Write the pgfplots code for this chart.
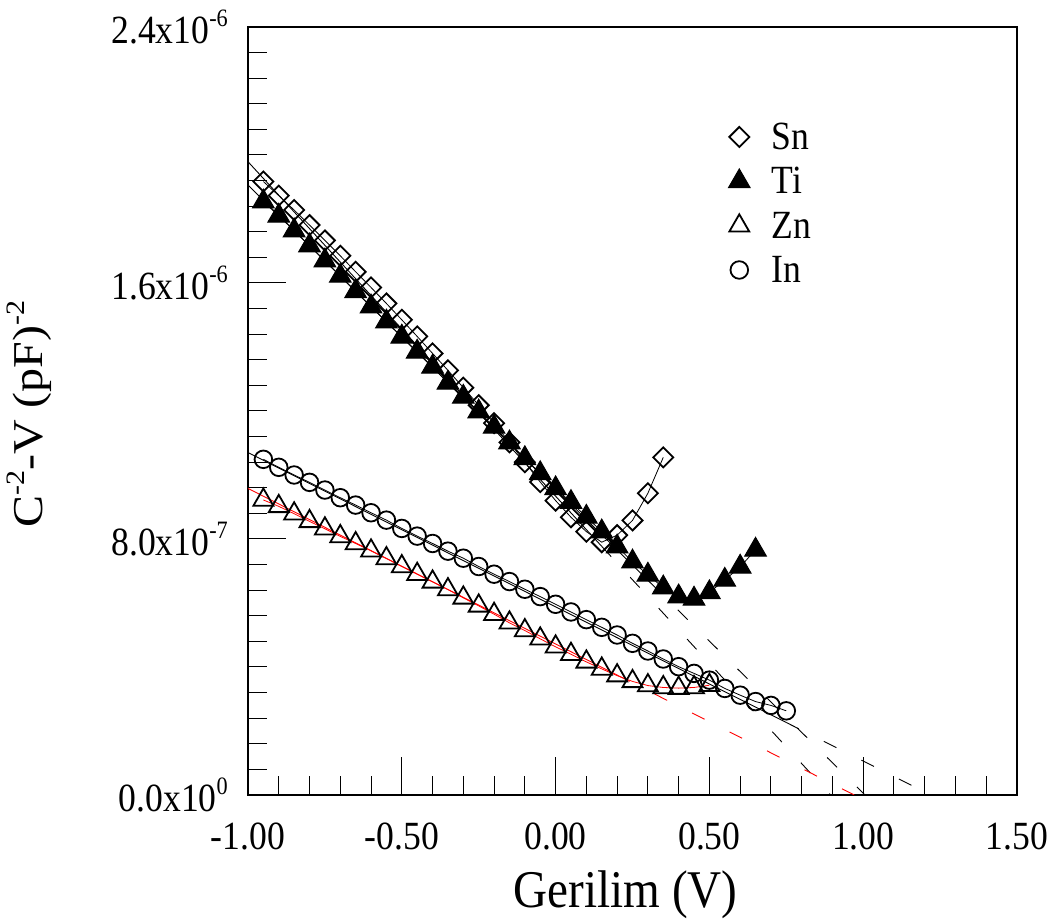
\documentclass[border=0pt]{standalone}
\usepackage{fontspec}
\setmainfont{Liberation Serif}
\newfontfamily\tnr{Liberation Serif}
\usepackage{graphicx}
\usepackage{pgfplots}
\pgfplotsset{compat=1.18}
\newcommand{\sx}[1]{\scalebox{0.89}[1]{#1}}
\newcommand{\sy}[1]{\scalebox{1}[0.886]{#1}}
\newcommand{\tsup}[1]{\raisebox{17bp}{\fontsize{25bp}{25bp}\selectfont #1}}
\newcommand{\lsup}[1]{\raisebox{21bp}{\fontsize{30bp}{30bp}\selectfont #1}}
\begin{document}
\tnr
\begin{tikzpicture}
\path[use as bounding box] (0,0) rectangle (1056bp,924bp);
\begin{axis}[
  at={(248bp,129bp)}, anchor=south west,
  scale only axis, width=769bp, height=768bp,
  xmin=-1, xmax=1.5, ymin=0, ymax=2.4e-6,
  scaled y ticks=false, scaled x ticks=false,
  xtick={-1,-0.5,0,0.5,1,1.5},
  xticklabels={\sx{-1.00},\sx{-0.50},\sx{0.00},\sx{0.50},\sx{1.00},\sx{1.50}},
  ytick={0,0.8e-6,1.6e-6,2.4e-6},
  yticklabels={\sx{0.0x10\tsup{0}},\sx{8.0x10\tsup{-7}},\sx{1.6x10\tsup{-6}},\sx{2.4x10\tsup{-6}}},
  minor x tick num=4, minor y tick num=9,
  tick pos=left, tick align=inside,
  major tick length=38bp, minor tick length=19bp,
  every tick/.style={black, line width=1bp},
  axis line style={line width=1.2bp},
  ticklabel style={font=\tnr\fontsize{40bp}{40bp}\selectfont, inner sep=0pt},
  xticklabel style={yshift=-28bp},
  yticklabel style={xshift=-20bp},
  xlabel={\sx{Gerilim (V)}}, ylabel={\sy{C\lsup{-2}-V (pF)\lsup{-2}}},
  xlabel style={font=\tnr\fontsize{53bp}{53bp}\selectfont, inner sep=0pt,
    at={(axis description cs:0.491,-0.147)}, anchor=base},
  ylabel style={font=\tnr\fontsize{48bp}{48bp}\selectfont, inner sep=0pt,
    at={(axis description cs:-0.2666,0.496)}, anchor=base},
  legend style={draw=none, fill=none, at={(axis cs:0.562,2.10e-6)}, anchor=north west,
    inner sep=0pt, outer sep=0pt, row sep=16.5bp, column sep=21.5bp,
    font=\tnr\fontsize{40bp}{40bp}\selectfont, nodes={inner sep=0pt}},
  legend cell align=left,
  legend image code/.code={\draw[#1] plot coordinates {(0bp,0bp)};},
]
% fit lines
\addplot[black, line width=0.9bp, forget plot] coordinates {(-1,1.979e-6) (0.15,0.777e-6)};
\addplot[black, line width=0.9bp, dash pattern=on 14bp off 28bp, forget plot] coordinates {(0.15,0.777e-6) (0.894,0)};
\addplot[black, line width=0.9bp, forget plot] coordinates {(-1,1.906e-6) (0.3,0.671e-6)};
\addplot[black, line width=0.9bp, dash pattern=on 14bp off 28bp, forget plot] coordinates {(0.3,0.671e-6) (1.006,0)};
\addplot[black, line width=0.9bp, forget plot] coordinates {(-1,1.070e-6) (0.75,0.2265e-6)};
\addplot[black, line width=0.9bp, dash pattern=on 14bp off 28bp, forget plot] coordinates {(0.75,0.2265e-6) (1.22,0)};
\addplot[red, line width=0.9bp, forget plot] coordinates {(-1,0.958e-6) (0.2,0.3748e-6)};
\addplot[red, line width=0.9bp, dash pattern=on 14bp off 28bp, forget plot] coordinates {(0.2,0.3748e-6) (0.971,0)};
% Sn
\addplot[black, line width=0.8bp, mark=square, mark size=7.1bp,
  mark options={rotate=45, solid, black, fill=none, line width=1.8bp}] coordinates {
(-0.95,1.917e-6) (-0.90,1.873e-6) (-0.85,1.828e-6) (-0.80,1.781e-6) (-0.75,1.733e-6)
(-0.70,1.685e-6) (-0.65,1.635e-6) (-0.60,1.586e-6) (-0.55,1.536e-6) (-0.50,1.485e-6)
(-0.45,1.433e-6) (-0.40,1.380e-6) (-0.35,1.327e-6) (-0.30,1.273e-6) (-0.25,1.218e-6)
(-0.20,1.162e-6) (-0.15,1.102e-6) (-0.10,1.040e-6) (-0.05,0.978e-6) (0.00,0.920e-6)
(0.05,0.868e-6) (0.10,0.823e-6) (0.15,0.790e-6) (0.20,0.812e-6) (0.25,0.858e-6)
(0.30,0.943e-6) (0.35,1.055e-6)};
\addlegendentry{\sx{Sn}}
% Ti
\addplot[black, line width=0.8bp, mark=triangle*, mark size=12.5bp,
  mark options={solid, black, fill=black, line width=1bp}] coordinates {
(-0.95,1.854e-6) (-0.90,1.810e-6) (-0.85,1.764e-6) (-0.80,1.717e-6) (-0.75,1.670e-6)
(-0.70,1.622e-6) (-0.65,1.574e-6) (-0.60,1.526e-6) (-0.55,1.479e-6) (-0.50,1.432e-6)
(-0.45,1.385e-6) (-0.40,1.338e-6) (-0.35,1.288e-6) (-0.30,1.244e-6) (-0.25,1.198e-6)
(-0.20,1.150e-6) (-0.15,1.101e-6) (-0.10,1.052e-6) (-0.05,1.005e-6) (0.00,0.958e-6)
(0.05,0.915e-6) (0.10,0.869e-6) (0.15,0.823e-6) (0.20,0.776e-6) (0.25,0.729e-6)
(0.30,0.688e-6) (0.35,0.648e-6) (0.40,0.620e-6) (0.45,0.613e-6) (0.50,0.633e-6)
(0.55,0.672e-6) (0.60,0.713e-6) (0.65,0.766e-6)};
\addlegendentry{\sx{Ti}}
% Zn
\addplot[red, line width=0.8bp, mark=triangle, mark size=11.5bp,
  mark options={solid, black, line width=1.8bp}] coordinates {
(-0.95,0.922e-6) (-0.90,0.902e-6) (-0.85,0.879e-6) (-0.80,0.855e-6) (-0.75,0.832e-6)
(-0.70,0.808e-6) (-0.65,0.786e-6) (-0.60,0.763e-6) (-0.55,0.739e-6) (-0.50,0.714e-6)
(-0.45,0.690e-6) (-0.40,0.666e-6) (-0.35,0.642e-6) (-0.30,0.616e-6) (-0.25,0.591e-6)
(-0.20,0.565e-6) (-0.15,0.538e-6) (-0.10,0.514e-6) (-0.05,0.488e-6) (0.00,0.463e-6)
(0.05,0.440e-6) (0.10,0.416e-6) (0.15,0.394e-6) (0.20,0.373e-6) (0.25,0.355e-6)
(0.30,0.342e-6) (0.35,0.336e-6) (0.40,0.334e-6) (0.45,0.336e-6) (0.50,0.343e-6)};
\addlegendentry{\sx{Zn}}
% In
\addplot[black, line width=0.8bp, mark=o, mark size=8.8bp,
  mark options={solid, black, line width=1.8bp}] coordinates {
(-0.95,1.049e-6) (-0.90,1.024e-6) (-0.85,1.000e-6) (-0.80,0.977e-6) (-0.75,0.953e-6)
(-0.70,0.929e-6) (-0.65,0.906e-6) (-0.60,0.882e-6) (-0.55,0.859e-6) (-0.50,0.833e-6)
(-0.45,0.809e-6) (-0.40,0.786e-6) (-0.35,0.762e-6) (-0.30,0.740e-6) (-0.25,0.714e-6)
(-0.20,0.690e-6) (-0.15,0.667e-6) (-0.10,0.643e-6) (-0.05,0.620e-6) (0.00,0.596e-6)
(0.05,0.572e-6) (0.10,0.548e-6) (0.15,0.524e-6) (0.20,0.500e-6) (0.25,0.474e-6)
(0.30,0.450e-6) (0.35,0.425e-6) (0.40,0.401e-6) (0.45,0.380e-6) (0.50,0.359e-6)
(0.55,0.333e-6) (0.60,0.312e-6) (0.65,0.292e-6) (0.70,0.280e-6) (0.75,0.263e-6)};
\addlegendentry{\sx{In}}
\end{axis}
\end{tikzpicture}
\end{document}
